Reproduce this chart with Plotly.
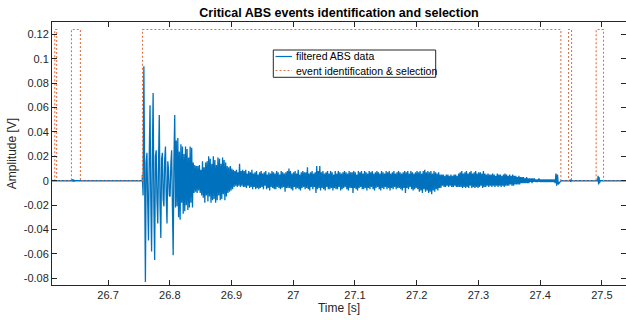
import plotly.graph_objects as go

# ---------------- data ----------------
# sparse parts of the filtered signal (time [s], amplitude [mV])
t_pre = [26.600, 26.6415, 26.6425, 26.6433, 26.6441, 26.6449, 26.6460, 26.7555]
v_pre = [0, 0, 1.2, -0.8, 1.0, -0.6, 0, 0]

# burst: uniformly sampled (first sample time, step, values in mV)
burst_t0 = 26.7555
burst_dt = 0.00125
burst_mv = [
    5, -12, 94, -20, -83, 15, 23, -18, -49, 20, 62, -15, -58, 18, 72, -22, -65, 20, 25, -16,
    -35, 14, 54, -20, -47, 18, 23, -15, -21, 17, 28, -14, -35, 16, 9, -12, -13, 14, 25, -20,
    -61, 18, 54, -22,
    33, -21, 35, -30, 24, -32, 30, -18, 28, -27, 22, -25, 28, -20, 26, -24, 19, -22, 28, -18,
    27, -22, 15, -10, 13, -9, 12, -10,
    12, -8, 13, -10, 9, -12, 16, -14, 11, -18, 15, -12, 16, -17, 20, -13, 18, -18, 14, -16,
    20, -15, 17, -18, 13, -16, 19, -12, 18, -16, 14, -15, 19, -11, 17, -16, 15, -13, 12, -10,
    11, -9, 12, -8, 10, -7, 9, -5, 8, -4, 9, -5, 7, -4, 14, -5, 8, -4, 9, -5,
    8, -5, 9, -6, 6, -4, 8, -6, 7, -5, 9, -7, 6, -5, 7, -7, 8, -6, 5, -7,
    7, -6, 8, -5, 6, -7, 7, -4, 8, -7, 5, -6, 7, -8, 6, -5, 8, -6, 7, -7,
    6, -7, 8, -5, 7, -6, 5, -7, 8, -6, 7, -5, 6, -9, 7, -6, 8, -6, 10, -6,
    8, -7, 6, -8, 7, -5, 8, -7, 6, -6, 9, -7, 5, -8, 7, -6, 8, -5, 7, -7,
    7, -6, 11, -7, 6, -8, 7, -5, 8, -7, 6, -5, 7, -10, 12, -7, 8, -6, 12, -8,
    7, -6, 8, -7, 6, -8, 7, -5, 8, -7, 6, -7, 8, -6, 7, -8, 5, -6, 8, -7,
    6, -7, 8, -5, 7, -8, 6, -7, 7, -6, 8, -5, 7, -7, 6, -8, 8, -6, 7, -6,
    7, -10, 8, -6, 7, -7, 5, -8, 8, -6, 7, -5, 8, -7, 6, -7, 8, -6, 7, -8,
    6, -6, 8, -7, 7, -5, 8, -7, 6, -8, 7, -6, 8, -5, 7, -7, 6, -8, 8, -6,
    7, -7, 6, -5, 8, -7, 7, -6, 8, -8, 6, -6, 7, -7, 8, -5, 6, -7, 7, -6,
    8, -6, 7, -7, 6, -8, 7, -6, 8, -10, 7, -6, 8, -7, 6, -5, 8, -7, 7, -8,
    6, -7, 7, -6, 8, -7, 7, -9, 8, -8, 6, -10, 8, -7, 9, -9, 7, -8, 8, -10,
    7, -9, 8, -11, 6, -8, 8, -9, 7, -7, 6, -8, 7, -6, 5, -6, 5, -4, 5, -5,
    4, -5, 5, -4, 5, -5, 4, -4, 5, -5, 4, -5, 5, -4, 5, -5, 4, -5, 6, -5,
    7, -5, 8, -6, 6, -5, 7, -6, 8, -5, 6, -6, 7, -4, 8, -6, 6, -5, 7, -6,
    8, -5, 6, -6, 7, -5, 7, -4, 6, -6, 8, -5, 6, -5, 5, -4, 6, -5, 5, -4,
    5, -5, 6, -4, 5, -5, 4, -4, 6, -5, 5, -4, 5, -5, 4, -4, 5, -5, 6, -4,
    5, -4, 4, -4, 5, -3, 4, -4, 5, -4, 4, -3, 4, -3, 3, -3, 4, -3, 3, -2,
    3, -2, 3, -2, 2, -2, 3, -2, 2, -2, 2, -1, 2, -2, 2, -1, 2, -1, 1, -1,
    1, -1, 2, -1, 1, -1, 1, -1, 1, -1, 1, -1, 1, -1, 1, -1, 1, -1, 1, -1,
    1, -1, 1, -2, 6, -4, 5, -3,
]

t_post = [27.4335, 27.4482, 27.4488, 27.4494, 27.4500, 27.4930,
          27.4938, 27.4946, 27.4954, 27.4962, 27.4970, 27.5400]
v_post = [0, 0, 1, -1, 0, 0, 4, -3, 3, -2, 0, 0]

# events (identification & selection windows)
ev_start = [26.6137, 26.6407, 26.7558, 27.4459, 27.4907]
ev_end = [26.6168, 26.6552, 27.4335, 27.4508, 27.5026]
ev_level = 0.124
ev_span = [26.600, 27.540]

x_tickvals = [26.7, 26.8, 26.9, 27.0, 27.1, 27.2, 27.3, 27.4, 27.5]
x_ticktext = ["26.7", "26.8", "26.9", "27", "27.1", "27.2", "27.3", "27.4", "27.5"]
y_tickvals = [-0.08, -0.06, -0.04, -0.02, 0, 0.02, 0.04, 0.06, 0.08, 0.1, 0.12]
y_ticktext = ["-0.08", "-0.06", "-0.04", "-0.02", "0", "0.02", "0.04", "0.06", "0.08", "0.1", "0.12"]

# ---------------- build series ----------------
b_t = [burst_t0 + i * burst_dt for i in range(len(burst_mv))]
sig_t = list(t_pre) + b_t + list(t_post)
sig_v = [v / 1000.0 for v in (list(v_pre) + list(burst_mv) + list(v_post))]

ev_x = [ev_span[0]]
ev_y = [0]
for s, e in zip(ev_start, ev_end):
    ev_x += [s, s, e, e]
    ev_y += [0, ev_level, ev_level, 0]
ev_x.append(ev_span[1])
ev_y.append(0)

BLUE = "#0072BD"
ORANGE = "#E0744A"
AX = "#262626"
FONT = "Liberation Sans, Arial, Helvetica, sans-serif"

fig = go.Figure()
fig.add_trace(go.Scatter(x=sig_t, y=sig_v, mode="lines",
                         line=dict(color=BLUE, width=1.3), name="filtered ABS data",
                         showlegend=False))
fig.add_trace(go.Scatter(x=ev_x, y=ev_y, mode="lines",
                         line=dict(color=ORANGE, width=1.1, dash="2px,2px"),
                         name="event identification & selection", showlegend=False))

L, R, T, B = 52, 0, 22, 35
W, H = 626, 320
pw, ph = W - L - R, H - T - B


def px(xp):
    return (xp - L) / pw


def py(yp):
    return (H - B - yp) / ph


# manual MATLAB-style legend
shapes = [
    dict(type="rect", xref="paper", yref="paper", x0=px(273.3), x1=px(435.7),
         y0=py(77.3), y1=py(50), line=dict(color=AX, width=1), fillcolor="white", layer="above"),
    dict(type="line", xref="paper", yref="paper", x0=px(275.5), x1=px(292), y0=py(56.5), y1=py(56.5),
         line=dict(color=BLUE, width=1.2), layer="above"),
    dict(type="line", xref="paper", yref="paper", x0=px(275.5), x1=px(292), y0=py(70.5), y1=py(70.5),
         line=dict(color=ORANGE, width=1.1, dash="2px,2px"), layer="above"),
]
annotations = [
    dict(xref="paper", yref="paper", x=px(293.5), y=py(56.5), text="filtered ABS data",
         showarrow=False, xanchor="left", yanchor="middle", font=dict(size=10.5, color="black", family=FONT)),
    dict(xref="paper", yref="paper", x=px(293.5), y=py(70.5), text="event identification &amp; selection",
         showarrow=False, xanchor="left", yanchor="middle", font=dict(size=10.5, color="black", family=FONT)),
]

fig.update_layout(
    width=W, height=H,
    margin=dict(l=L, r=R, t=T, b=B, pad=0),
    paper_bgcolor="white", plot_bgcolor="white",
    font=dict(family=FONT, size=11, color=AX),
    title=dict(text="<b>Critical ABS events identification and selection</b>",
               x=0.5, xref="paper", y=1 - 12.5 / H, yref="container",
               xanchor="center", yanchor="middle", font=dict(size=12.5, color="black", family=FONT)),
    shapes=shapes, annotations=annotations,
    showlegend=False,
)
fig.update_xaxes(range=[26.6092, 27.539], tickvals=x_tickvals, ticktext=x_ticktext,
                 showgrid=False, zeroline=False, showline=True, linecolor=AX, linewidth=1,
                 mirror="ticks", ticks="inside", ticklen=5, tickcolor=AX,
                 title=dict(text="Time [s]", font=dict(size=12, color=AX), standoff=2),
                 tickfont=dict(size=11, color=AX))
fig.update_yaxes(range=[-0.0855, 0.1302], tickvals=y_tickvals, ticktext=y_ticktext,
                 showgrid=False, zeroline=False, showline=True, linecolor=AX, linewidth=1,
                 mirror="ticks", ticks="inside", ticklen=5, tickcolor=AX,
                 title=dict(text="Amplitude [V]", font=dict(size=12, color=AX), standoff=4),
                 tickfont=dict(size=11, color=AX))

fig.write_html("out.html")
